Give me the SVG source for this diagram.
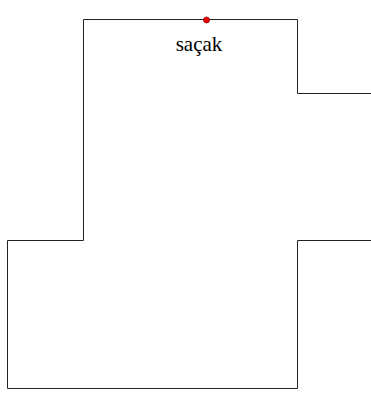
<svg xmlns="http://www.w3.org/2000/svg" width="371" height="394" viewBox="0 0 371 394">
<style>
.wall{fill:none;stroke:#222;stroke-width:1}
.lbl{font-family:"Liberation Serif",serif;font-size:21px;fill:#000;text-anchor:middle}
</style>
<rect width="371" height="394" fill="#fff"/>
<g id="connectors">
<polyline class="wall" points="371,93.5 297.5,93.5 297.5,19.5 83.5,19.5 83.5,240.5 7.5,240.5 7.5,388.5 297.5,388.5 297.5,240.5 371,240.5"/>
</g>
<g id="sacak">
<circle cx="206.5" cy="20" r="3" fill="#e00" stroke="#800" stroke-width="0.8"/>
<text class="lbl" x="199" y="51">saçak</text>
</g>
</svg>
